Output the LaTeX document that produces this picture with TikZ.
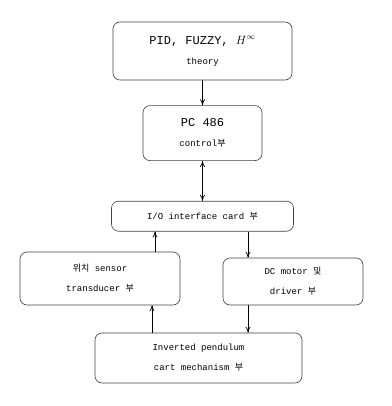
\documentclass[tikz,border=0pt]{standalone}
\usepackage{fontspec}
\setmainfont{Liberation Mono}
\newfontfamily\kr{Noto Sans CJK KR}
\usetikzlibrary{positioning,arrows.meta}

\tikzset{
	block/.style={draw=black!75, line width=0.6pt, rounded corners=7pt, align=center, font=\fontsize{9}{20}\selectfont},
	link/.style={line width=0.7pt, -{To[length=6pt,width=5pt]}},
	dlink/.style={line width=0.7pt, {To[length=6pt,width=5pt]}-{To[length=6pt,width=5pt]}}
}

\begin{document}
\begin{tikzpicture}[x=1pt,y=-1pt]
	\useasboundingbox (0,0) rectangle (391,406);
	\node[block, minimum width=179pt, minimum height=58pt] (theory) at (202.5,51)
		{{\fontsize{12}{14}\selectfont PID, FUZZY, $H^{\infty}$}\\ theory};
	\node[block, minimum width=119pt, minimum height=55pt, below=25pt of theory] (pc)
		{{\fontsize{12}{14}\selectfont PC 486}\\ control{\kr 부}};
	\node[block, minimum width=182pt, minimum height=30pt, below=40pt of pc] (io)
		{I/O interface card {\kr 부}};
	\node[block, minimum width=160pt, minimum height=53pt] (sensor) at (100,278.5)
		{{\kr 위치} sensor\\ transducer {\kr 부}};
	\node[block, minimum width=140pt, minimum height=47pt] (motor) at (293,281.5)
		{DC motor {\kr 및}\\ driver {\kr 부}};
	\node[block, minimum width=207pt, minimum height=50pt] (plant) at (198.5,358)
		{Inverted pendulum\\ cart mechanism {\kr 부}};

	\draw[link] (theory) -- (pc);
	\draw[dlink] (pc) -- (io);
	\draw[link] ([xshift=55pt]sensor.north) -- ([xshift=55pt]sensor.north |- io.south);
	\draw[link] ([xshift=-45pt]motor.north |- io.south) -- ([xshift=-45pt]motor.north);
	\draw[link] ([xshift=52pt]sensor.south |- plant.north) -- ([xshift=52pt]sensor.south);
	\draw[link] ([xshift=-45pt]motor.south) -- ([xshift=-45pt]motor.south |- plant.north);
\end{tikzpicture}
\end{document}
